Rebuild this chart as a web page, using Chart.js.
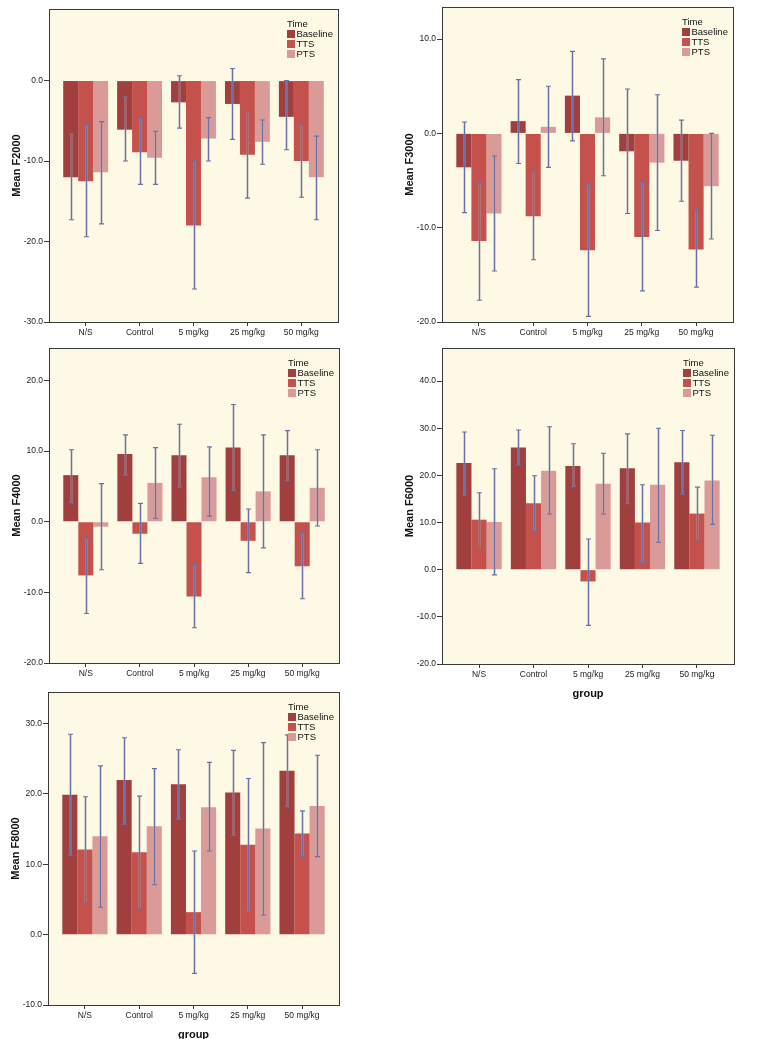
<!DOCTYPE html>
<html>
<head>
<meta charset="utf-8">
<script src="https://cdn.jsdelivr.net/npm/chart.js@4.4.1/dist/chart.umd.min.js"></script>
<style>
  body { margin: 0; background: #fff; width: 760px; height: 1039px; position: relative; overflow: hidden; }
  canvas { position: absolute; }
</style>
</head>
<body>
<canvas id="c2000"></canvas>
<canvas id="c3000"></canvas>
<canvas id="c4000"></canvas>
<canvas id="c6000"></canvas>
<canvas id="c8000"></canvas>
<script>
// categories and series
var groups = ['N/S', 'Control', '5 mg/kg', '25 mg/kg', '50 mg/kg'];
var times = ['Baseline', 'TTS', 'PTS'];
var timeColors = ['#a13e3e', '#c5514c', '#da9a97'];

// means, rows = Baseline, TTS, PTS
var f2000Mean = [[-12.0, -6.1, -2.7, -2.9, -4.5], [-12.5, -8.9, -18.0, -9.2, -10.0], [-11.4, -9.6, -7.2, -7.6, -12.0]];
var f2000Low  = [[-17.3, -10.0, -5.9, -7.3, -8.6], [-19.4, -12.9, -25.9, -14.6, -14.5], [-17.8, -12.9, -10.0, -10.4, -17.3]];
var f2000High = [[-6.6, -2.0, 0.6, 1.5, 0.0], [-5.5, -4.7, -10.0, -3.8, -5.5], [-5.1, -6.3, -4.6, -4.9, -6.9]];

var f3000Mean = [[-3.6, 1.3, 4.0, -1.9, -2.9], [-11.4, -8.8, -12.4, -11.0, -12.3], [-8.5, 0.7, 1.7, -3.1, -5.6]];
var f3000Low  = [[-8.4, -3.2, -0.8, -8.5, -7.2], [-17.7, -13.4, -19.4, -16.7, -16.3], [-14.6, -3.6, -4.5, -10.3, -11.2]];
var f3000High = [[1.2, 5.7, 8.7, 4.7, 1.4], [-5.2, -4.0, -5.4, -5.2, -8.2], [-2.4, 5.0, 7.9, 4.1, 0.0]];

var f4000Mean = [[6.6, 9.6, 9.4, 10.5, 9.4], [-7.6, -1.7, -10.6, -2.7, -6.3], [-0.7, 5.5, 6.3, 4.3, 4.8]];
var f4000Low  = [[2.7, 6.6, 4.9, 4.4, 5.8], [-13.0, -5.9, -15.0, -7.2, -10.9], [-6.8, 0.5, 0.8, -3.7, -0.6]];
var f4000High = [[10.2, 12.3, 13.8, 16.6, 12.9], [-2.3, 2.6, -6.1, 1.8, -1.5], [5.4, 10.5, 10.6, 12.3, 10.2]];

var f6000Mean = [[22.6, 25.9, 22.0, 21.5, 22.8], [10.6, 14.1, -2.5, 10.0, 11.9], [10.1, 21.0, 18.2, 18.0, 18.9]];
var f6000Low  = [[15.7, 22.2, 17.6, 14.0, 16.0], [4.7, 8.2, -11.8, 1.5, 6.1], [-1.1, 11.8, 11.8, 5.8, 9.6]];
var f6000High = [[29.2, 29.6, 26.7, 28.8, 29.5], [16.3, 19.9, 6.5, 18.0, 17.5], [21.4, 30.3, 24.7, 30.0, 28.5]];

var f8000Mean = [[19.9, 22.0, 21.4, 20.2, 23.3], [12.1, 11.7, 3.2, 12.8, 14.4], [14.0, 15.4, 18.1, 15.1, 18.3]];
var f8000Low  = [[11.3, 15.7, 16.4, 14.1, 18.2], [4.6, 3.7, -5.5, 3.3, 11.1], [3.9, 7.1, 11.9, 2.8, 11.1]];
var f8000High = [[28.5, 28.0, 26.3, 26.2, 28.4], [19.6, 19.7, 11.9, 22.2, 17.6], [24.0, 23.6, 24.5, 27.3, 25.5]];

var FONT = "'Liberation Sans', Arial, sans-serif";
var PAD_TOP = 10;

// plot background + frame
var framePlugin = {
  id: 'frame',
  beforeDraw: function(chart) {
    var a = chart.chartArea, ctx = chart.ctx;
    ctx.save();
    ctx.fillStyle = '#fdf9e4';
    ctx.fillRect(a.left, a.top, a.right - a.left, a.bottom - a.top);
    ctx.restore();
  },
  afterDraw: function(chart) {
    var a = chart.chartArea, ctx = chart.ctx;
    ctx.save();
    ctx.strokeStyle = '#3a3a3a';
    ctx.lineWidth = 1;
    ctx.strokeRect(Math.round(a.left) + 0.5, Math.round(a.top) + 0.5, Math.round(a.right - a.left), Math.round(a.bottom - a.top));
    ctx.restore();
  }
};

// error bars from dataset.low / dataset.high
var errorBarPlugin = {
  id: 'errorBars',
  afterDatasetsDraw: function(chart) {
    var ctx = chart.ctx, y = chart.scales.y;
    ctx.save();
    chart.data.datasets.forEach(function(ds, i) {
      var meta = chart.getDatasetMeta(i);
      meta.data.forEach(function(bar, j) {
        var x = Math.round(bar.x) + 0.5;
        var yt = y.getPixelForValue(ds.high[j]);
        var yb = y.getPixelForValue(ds.low[j]);
        // soft grey halo like the original rendering
        ctx.strokeStyle = 'rgba(170,170,185,0.45)';
        ctx.lineWidth = 2.6;
        ctx.beginPath();
        ctx.moveTo(x, yt); ctx.lineTo(x, yb);
        ctx.stroke();
        ctx.strokeStyle = '#6970a8';
        ctx.lineWidth = 1.1;
        ctx.beginPath();
        ctx.moveTo(x, yt); ctx.lineTo(x, yb);
        ctx.moveTo(x - 2.5, yt); ctx.lineTo(x + 2.5, yt);
        ctx.moveTo(x - 2.5, yb); ctx.lineTo(x + 2.5, yb);
        ctx.stroke();
      });
    });
    ctx.restore();
  }
};

// "Time" legend inside the plot, top right
var legendPlugin = {
  id: 'timeLegend',
  afterDraw: function(chart) {
    var a = chart.chartArea, ctx = chart.ctx;
    var x = a.right - 51, y = a.top + 15;
    ctx.save();
    ctx.fillStyle = '#111';
    ctx.font = '9.5px ' + FONT;
    ctx.textBaseline = 'middle';
    ctx.fillText('Time', x, y);
    chart.data.datasets.forEach(function(ds, i) {
      var ry = y + 10 * (i + 1);
      ctx.fillStyle = ds.backgroundColor;
      ctx.fillRect(x, ry - 4, 8, 8);
      ctx.fillStyle = '#111';
      ctx.fillText(ds.label, x + 9.5, ry);
    });
    ctx.restore();
  }
};

function makePanel(id, L, T, R, B, yMin, yMax, title, means, lows, highs, showGroup) {
  var xh = showGroup ? 38 : 24;
  var canvas = document.getElementById(id);
  canvas.width = R - (L - 49) + 6;
  canvas.height = (B - T) + PAD_TOP + xh;
  canvas.style.left = (L - 49) + 'px';
  canvas.style.top = (T - PAD_TOP) + 'px';

  var datasets = times.map(function(t, k) {
    return {
      label: t,
      data: means[k].map(function(v, i) { return {x: i, y: v}; }),
      low: lows[k],
      high: highs[k],
      backgroundColor: timeColors[k],
      borderWidth: 0,
      categoryPercentage: 0.833,
      barPercentage: 1.0
    };
  });

  new Chart(canvas, {
    type: 'bar',
    data: {datasets: datasets},
    options: {
      responsive: false,
      animation: false,
      layout: {padding: {left: 0, top: PAD_TOP, right: 6, bottom: 0}},
      plugins: {legend: {display: false}, tooltip: {enabled: false}},
      scales: {
        x: {
          type: 'linear',
          min: -0.68,
          max: 4.68,
          offset: false,
          grid: {offset: false, drawOnChartArea: false, drawTicks: true, tickLength: 4, color: '#3a3a3a'},
          border: {display: false},
          ticks: {
            stepSize: 1,
            includeBounds: false,
            autoSkip: false,
            maxRotation: 0,
            padding: 2,
            color: '#222',
            font: {family: FONT, size: 8.5},
            callback: function(v) { return groups[v]; }
          },
          title: {
            display: showGroup,
            text: 'group',
            color: '#111',
            padding: {top: 0, bottom: 1},
            font: {family: FONT, size: 11, weight: 'bold'}
          },
          afterFit: function(s) { s.height = xh; }
        },
        y: {
          min: yMin,
          max: yMax,
          grid: {drawOnChartArea: false, drawTicks: true, tickLength: 5, color: '#3a3a3a'},
          border: {display: false},
          ticks: {
            stepSize: 10,
            includeBounds: false,
            padding: 1,
            color: '#222',
            font: {family: FONT, size: 8.5},
            callback: function(v) { return v.toFixed(1); }
          },
          title: {
            display: true,
            text: title,
            color: '#111',
            padding: {top: 10, bottom: 0},
            font: {family: FONT, size: 11, weight: 'bold'}
          },
          afterFit: function(s) { s.width = 49; }
        }
      }
    },
    plugins: [framePlugin, errorBarPlugin, legendPlugin]
  });
}

makePanel('c2000', 49, 9, 338, 322, -30, 8.9, 'Mean F2000', f2000Mean, f2000Low, f2000High, false);
makePanel('c3000', 442, 7, 733, 322, -20, 13.4, 'Mean F3000', f3000Mean, f3000Low, f3000High, false);
makePanel('c4000', 49, 348, 339, 663, -20, 24.6, 'Mean F4000', f4000Mean, f4000Low, f4000High, false);
makePanel('c6000', 442, 348, 734, 664, -20, 47.0, 'Mean F6000', f6000Mean, f6000Low, f6000High, true);
makePanel('c8000', 48, 692, 339, 1005, -10, 34.5, 'Mean F8000', f8000Mean, f8000Low, f8000High, true);
</script>
</body>
</html>
